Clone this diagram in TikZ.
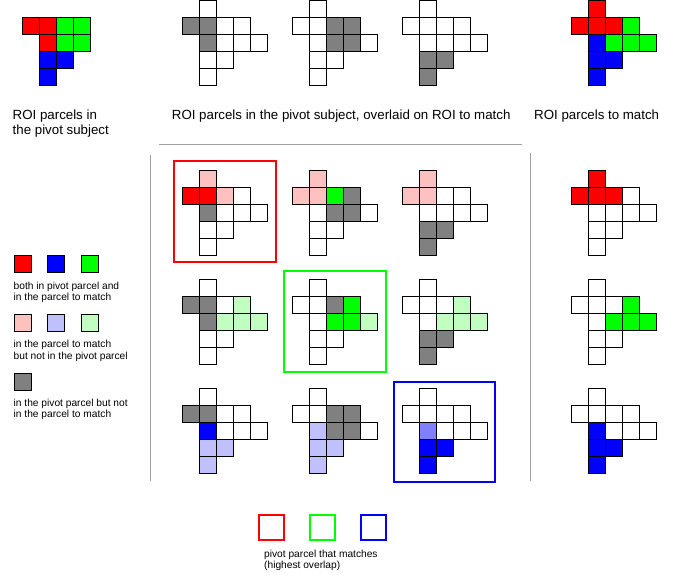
\documentclass[tikz,border=0pt]{standalone}
\usepackage{fontspec}
\setmainfont{Liberation Sans}
\definecolor{pR}{HTML}{FF0000}
\definecolor{pG}{HTML}{00FF00}
\definecolor{pB}{HTML}{0000FF}
\definecolor{lR}{HTML}{FFC0C0}
\definecolor{lG}{HTML}{C0FFC0}
\definecolor{lB}{HTML}{C0C0FF}
\definecolor{mB}{HTML}{8080FF}
\definecolor{gy}{HTML}{808080}
\definecolor{sep}{HTML}{A0A0A0}
\def\cs{17}
\newcommand\roicells[3]{%
  \foreach \rr/\cc/\ff in {#3} {
    \fill[\ff] ({#1+\cc*\cs},{#2+\rr*\cs}) rectangle ++(\cs,\cs);
  }
  \foreach \rr/\cc/\ff in {#3} {
    \draw[cellbox] ({#1+\cc*\cs},{#2+\rr*\cs}) rectangle ++(\cs,\cs);
  }}
\newcommand\matchoutline[2]{%
  \roicells{#1}{#2}{-1/1/white,0/0/white,0/1/white,0/2/white,0/3/white,1/1/white,1/2/white,1/3/white,1/4/white,2/1/white,2/2/white,3/1/white}}
\newcommand\roigrid[3]{\matchoutline{#1}{#2}\roicells{#1}{#2}{#3}}
\tikzset{
  cellbox/.style={draw=black, line width=1.2pt},
  bigtext/.style={anchor=base west, inner sep=0pt, font=\fontsize{13.3}{15}\selectfont},
  smalltext/.style={anchor=base west, inner sep=0pt, font=\fontsize{10.2}{12}\selectfont},
  legsq/.style={draw=black, line width=1pt},
  hibox/.style={line width=2pt},
  sepline/.style={draw=sep, line width=1.2pt}
}
\begin{document}
\begin{tikzpicture}[x=1pt, y=-1pt]
\useasboundingbox (0,0) rectangle (678,577);
% top-left pivot subject
\roicells{22.5}{17.5}{0/0/pR,0/1/pR,0/2/pG,0/3/pG,1/1/pR,1/2/pG,1/3/pG,2/1/pB,2/2/pB,3/1/pB}
% top overlays
\roigrid{182.5}{17.5}{0/0/gy,0/1/gy,1/1/gy}
\roigrid{292.5}{17.5}{0/2/gy,0/3/gy,1/2/gy,1/3/gy}
\roigrid{402.5}{17.5}{2/1/gy,2/2/gy,3/1/gy}
% top-right match subject
\roicells{571.5}{17.5}{-1/1/pR,0/0/pR,0/1/pR,0/2/pR,0/3/pG,1/1/pB,1/2/pG,1/3/pG,1/4/pG,2/1/pB,2/2/pB,3/1/pB}
% titles
\node[bigtext] (t1a) at (12.5,119.3) {ROI parcels in};
\node[bigtext] (t1b) at (12.5,134.6) {the pivot subject};
\node[bigtext] (t2) at (171.7,119.3) {ROI parcels in the pivot subject, overlaid on ROI to match};
\node[bigtext] (t3) at (534,119.3) {ROI parcels to match};
% separators
\draw[sepline] (159,144.5) -- (522,144.5);
\draw[sepline] (150.5,155) -- (150.5,481);
\draw[sepline] (530.5,153) -- (530.5,481);
% matrix row red
\roigrid{182.5}{187.5}{-1/1/lR,0/0/pR,0/1/pR,0/2/lR,1/1/gy}
\roigrid{292.5}{187.5}{-1/1/lR,0/0/lR,0/1/lR,0/2/pG,0/3/gy,1/2/gy,1/3/gy}
\roigrid{402.5}{187.5}{-1/1/lR,0/0/lR,0/1/lR,2/1/gy,2/2/gy,3/1/gy}
% matrix row green
\roigrid{182.5}{296.5}{0/0/gy,0/1/gy,1/1/gy,0/3/lG,1/2/lG,1/3/lG,1/4/lG}
\roigrid{292.5}{296.5}{0/2/gy,0/3/pG,1/2/pG,1/3/pG,1/4/lG}
\roigrid{402.5}{296.5}{0/3/lG,1/2/lG,1/3/lG,1/4/lG,2/1/gy,2/2/gy,3/1/gy}
% matrix row blue
\roigrid{182.5}{405.5}{0/0/gy,0/1/gy,1/1/pB,2/1/lB,2/2/lB,3/1/lB}
\roigrid{292.5}{405.5}{0/2/gy,0/3/gy,1/2/gy,1/3/gy,1/1/lB,2/1/lB,2/2/lB,3/1/lB}
\roigrid{402.5}{405.5}{1/1/mB,2/1/pB,2/2/pB,3/1/pB}
% right column
\roigrid{571.5}{187.5}{-1/1/pR,0/0/pR,0/1/pR,0/2/pR}
\roigrid{571.5}{296.5}{0/3/pG,1/2/pG,1/3/pG,1/4/pG}
\roigrid{571.5}{405.5}{1/1/pB,2/1/pB,2/2/pB,3/1/pB}
% highlight boxes
\draw[hibox, draw=pR] (174,161) rectangle (276,262);
\draw[hibox, draw=pG] (284,271) rectangle (386,372);
\draw[hibox, draw=pB] (394,382) rectangle (495,482);
% legend
\draw[legsq, fill=pR] (14.5,255.5) rectangle ++(17,17);
\draw[legsq, fill=pB] (47.5,255.5) rectangle ++(17,17);
\draw[legsq, fill=pG] (81.5,255.5) rectangle ++(17,17);
\node[smalltext] (l1a) at (13.5,289.5) {both in pivot parcel and};
\node[smalltext] (l1b) at (13.5,301) {in the parcel to match};
\draw[legsq, fill=lR] (14.5,314.5) rectangle ++(17,17);
\draw[legsq, fill=lB] (47.5,314.5) rectangle ++(17,17);
\draw[legsq, fill=lG] (81.5,314.5) rectangle ++(17,17);
\node[smalltext] (l2a) at (13.5,348) {in the parcel to match};
\node[smalltext] (l2b) at (13.5,359.5) {but not in the pivot parcel};
\draw[legsq, fill=gy] (14.5,373.5) rectangle ++(17,17);
\node[smalltext] (l3a) at (13.5,406.5) {in the pivot parcel but not};
\node[smalltext] (l3b) at (13.5,418) {in the parcel to match};
% bottom legend
\draw[hibox, draw=pR] (259,515) rectangle ++(25,25);
\draw[hibox, draw=pG] (310,515) rectangle ++(25,25);
\draw[hibox, draw=pB] (361,515) rectangle ++(25,25);
\node[smalltext] (b1) at (264,557) {pivot parcel that matches};
\node[smalltext] (b2) at (264,568.5) {(highest overlap)};
\end{tikzpicture}
\end{document}
